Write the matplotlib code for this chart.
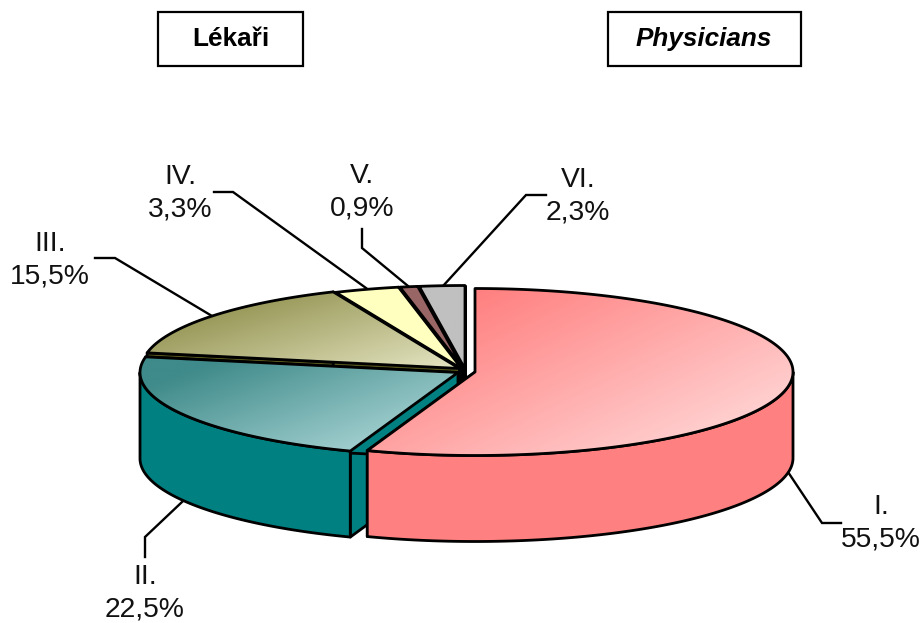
import numpy as np
import matplotlib
matplotlib.use("Agg")
import matplotlib.pyplot as plt
from matplotlib.patches import Polygon, Rectangle
from matplotlib.colors import LinearSegmentedColormap

plt.rcParams['font.family'] = ['Liberation Sans', 'DejaVu Sans']

# chart values
labels = ['I.', 'II.', 'III.', 'IV.', 'V.', 'VI.']
shares = [55.5, 22.5, 15.5, 3.3, 0.9, 2.3]
titles = ['Lékaři', 'Physicians']

# slice styling, same order as the values
apex_x = [475, 458, 459.5, 462, 463.5, 465]
apex_y = [372, 372.5, 368.5, 369, 369, 369]
dark = ['#ff8080', '#3f8a8a', '#8f8f4c', '#ffffc0', '#996666', '#c0c0c0']
light = ['#ffdcdc', '#b4dcdc', '#e0e0bc', '#ffffc0', '#996666', '#c0c0c0']
wall = ['#ff8080', '#008080', '#55551c', '#ffffc0', '#996666', '#c0c0c0']

RX, RY, DEPTH = 318, 83.5, 86
LW = 2.0

# label centres and leader lines (pixels)
label_pos = [(881, 523.5), (145, 593), (50, 260), (180, 193), (362, 192), (578, 196)]
leaders = [
    [(788, 472), (822, 523), (841, 523)],
    [(182, 502), (145, 537), (145, 557)],
    [(95, 258), (115, 258), (212, 316)],
    [(214, 192), (233, 192), (366, 288)],
    [(362, 229), (362, 248), (408, 286)],
    [(546, 195), (526, 195), (443, 286)],
]

fig = plt.figure(figsize=(9.22, 6.23), dpi=100)
ax = fig.add_axes([0, 0, 1, 1])
ax.set_xlim(0, 922)
ax.set_ylim(623, 0)
ax.axis('off')

z_count = [1]
def z_next():
    z_count[0] += 1
    return z_count[0]


def rim(cx, cy, a0, a1, dy=0):
    t = np.radians(np.linspace(a0, a1, 200))
    return np.column_stack([cx + RX * np.cos(t), cy - RY * np.sin(t) + dy])


# Draws one slice going clockwise from a0 to a1 (degrees)
def draw_slice(i, a0, a1):
    cx, cy = apex_x[i], apex_y[i]
    top = np.vstack([[cx, cy], rim(cx, cy, a0, a1)])

    # cut faces
    for a in (a0, a1):
        edge = rim(cx, cy, a, a)[0]
        face = [(cx, cy), edge, edge + (0, DEPTH), (cx, cy + DEPTH)]
        ax.add_patch(Polygon(face, fc=wall[i], ec='black', lw=LW, joinstyle='round', zorder=z_next()))

    # outer wall, only the part that faces the viewer
    lo = max(a1, -180)
    hi = min(a0, 0)
    if hi > lo:
        wall_pts = np.vstack([rim(cx, cy, hi, lo), rim(cx, cy, lo, hi, DEPTH)])
        ax.add_patch(Polygon(wall_pts, fc=wall[i], ec='black', lw=LW, joinstyle='round', zorder=z_next()))

    # top with its gradient
    z = z_next()
    x0, y0 = top.min(axis=0)
    x1, y1 = top.max(axis=0)
    outline = Polygon(top, fc='none', ec='none')
    ax.add_patch(outline)
    xx, yy = np.meshgrid(np.linspace(0, 1, 200), np.linspace(0, 1, 200))
    grad = np.clip((xx * 0.55 + yy * 0.45 - 0.15) / 0.8, 0, 1)
    cmap = LinearSegmentedColormap.from_list('s', [dark[i], light[i]])
    im = ax.imshow(grad, extent=[x0, x1, y1, y0], cmap=cmap, vmin=0, vmax=1,
                   aspect='auto', zorder=z, interpolation='bilinear')
    im.set_clip_path(outline)
    ax.add_patch(Polygon(top, fc='none', ec='black', lw=LW, joinstyle='round', zorder=z_next()))


# angles run clockwise from the top
ends = 90 - np.cumsum(shares) * 3.6
starts = np.concatenate([[90], ends[:-1]])

# back slices first so the front ones cover them
for i in [5, 4, 3, 2, 1, 0]:
    draw_slice(i, starts[i], ends[i])

ax.set_xlim(0, 922)
ax.set_ylim(623, 0)

for pts in leaders:
    xs, ys = zip(*pts)
    ax.plot(xs, ys, color='black', lw=1.7, solid_joinstyle='miter', zorder=1)

for lab, val, (x, y) in zip(labels, shares, label_pos):
    ax.text(x, y, lab + "\n" + f"{val:.1f}".replace('.', ',') + "%", ha='center', va='center',
            fontsize=20.3, linespacing=1.34, color='#111111', zorder=500)

# title boxes
ax.add_patch(Rectangle((158, 12), 145, 54, fc='white', ec='black', lw=1.6, zorder=500))
ax.add_patch(Rectangle((608, 12), 193, 54, fc='white', ec='black', lw=1.6, zorder=500))
ax.text(230.5, 39, titles[0], ha='center', va='center', fontsize=18.8, fontweight='bold', zorder=501)
ax.text(704, 39, titles[1], ha='center', va='center', fontsize=18.8, fontweight='bold', style='italic', zorder=501)

fig.savefig('out.png', dpi=100)
